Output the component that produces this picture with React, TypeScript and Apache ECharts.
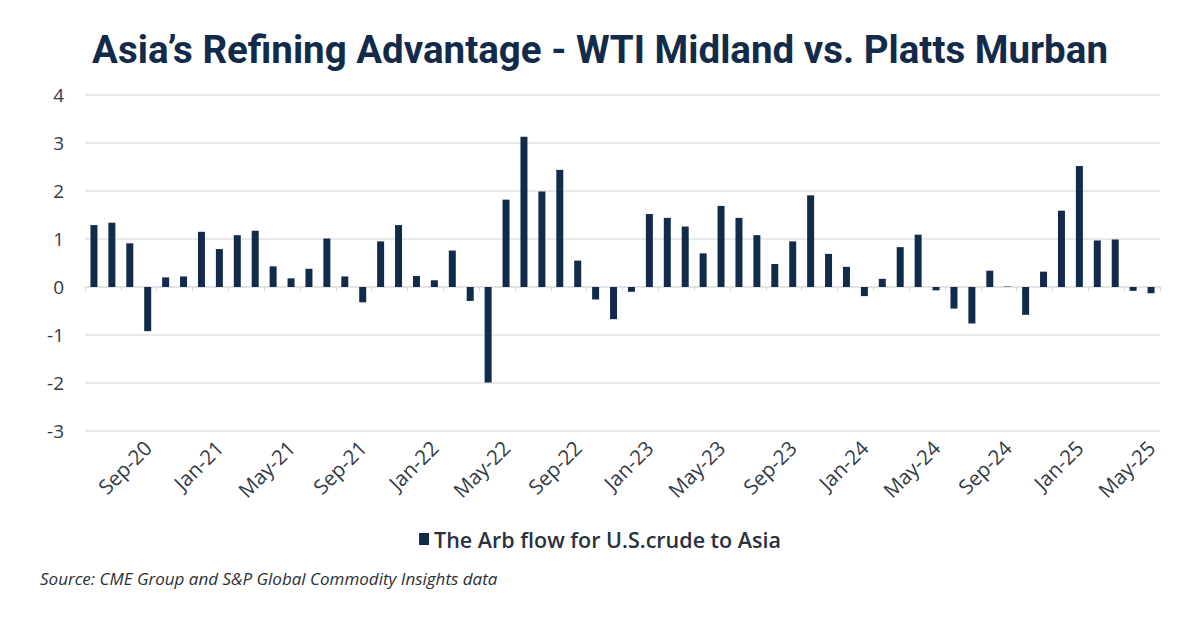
import React, { useEffect, useRef } from "react";
import * as echarts from "echarts";

const TITLE = "Asia\u2019s Refining Advantage - WTI Midland vs. Platts Murban";
const SERIES_NAME = "The Arb flow for U.S.crude to Asia";
const SOURCE = "Source: CME Group and S&P Global Commodity Insights data";

const months = [
  "Jun-20", "Jul-20", "Aug-20", "Sep-20", "Oct-20", "Nov-20", "Dec-20",
  "Jan-21", "Feb-21", "Mar-21", "Apr-21", "May-21", "Jun-21", "Jul-21", "Aug-21", "Sep-21", "Oct-21", "Nov-21", "Dec-21",
  "Jan-22", "Feb-22", "Mar-22", "Apr-22", "May-22", "Jun-22", "Jul-22", "Aug-22", "Sep-22", "Oct-22", "Nov-22", "Dec-22",
  "Jan-23", "Feb-23", "Mar-23", "Apr-23", "May-23", "Jun-23", "Jul-23", "Aug-23", "Sep-23", "Oct-23", "Nov-23", "Dec-23",
  "Jan-24", "Feb-24", "Mar-24", "Apr-24", "May-24", "Jun-24", "Jul-24", "Aug-24", "Sep-24", "Oct-24", "Nov-24", "Dec-24",
  "Jan-25", "Feb-25", "Mar-25", "Apr-25", "May-25",
];

const arbValues = [
  1.29, 1.34, 0.91, -0.92, 0.2, 0.22, 1.15, 0.79, 1.08, 1.17,
  0.43, 0.18, 0.38, 1.01, 0.22, -0.32, 0.95, 1.29, 0.23, 0.14,
  0.76, -0.29, -1.99, 1.82, 3.13, 1.99, 2.44, 0.55, -0.26, -0.67,
  -0.1, 1.52, 1.44, 1.26, 0.7, 1.69, 1.44, 1.08, 0.48, 0.95,
  1.91, 0.69, 0.42, -0.19, 0.17, 0.83, 1.09, -0.07, -0.45, -0.76,
  0.34, 0.01, -0.58, 0.32, 1.59, 2.52, 0.97, 0.99, -0.08, -0.13,
];

const Y_MIN = -3;
const Y_MAX = 4;
const Y_STEP = 1;

const NAVY = "#132b4b";
const TEXT = "#333a44";
const GRID = "#e2e2e2";

export default function App() {
  const ref = useRef<HTMLDivElement>(null);

  useEffect(() => {
    if (!ref.current) return;
    const chart = echarts.init(ref.current, null, { renderer: "svg" });
    chart.setOption({
      animation: false,
      backgroundColor: "#ffffff",
      title: {
        text: TITLE,
        left: "center",
        top: 25,
        textStyle: {
          fontFamily: "Roboto",
          fontWeight: "bold",
          fontSize: 38.5,
          color: NAVY,
        },
      },
      legend: {
        data: [SERIES_NAME],
        left: "center",
        top: 523,
        icon: "rect",
        itemWidth: 10,
        itemHeight: 12,
        itemGap: 6,
        textStyle: {
          fontFamily: "Open Sans",
          fontWeight: 600,
          fontSize: 21.5,
          color: "#2b323d",
        },
      },
      grid: { left: 85, right: 40, top: 95, bottom: 196, containLabel: false },
      xAxis: [
        {
          type: "category",
          data: months,
          boundaryGap: true,
          axisLine: { show: false, onZero: false },
          axisTick: { show: false },
          axisLabel: {
            interval: (index: number) => index % 4 === 3,
            rotate: 45,
            margin: 13,
            fontFamily: "Open Sans",
            fontSize: 20.5,
            color: TEXT,
          },
        },
        {
          type: "category",
          data: months,
          boundaryGap: true,
          position: "bottom",
          axisLine: { show: true, onZero: true, lineStyle: { color: GRID, width: 1.5 } },
          axisTick: { show: true, interval: 1, length: 4, lineStyle: { color: "#d8d8d8" } },
          axisLabel: { show: false },
          splitLine: { show: false },
        },
      ],
      yAxis: {
        type: "value",
        min: Y_MIN,
        max: Y_MAX,
        interval: Y_STEP,
        axisLine: { show: false },
        axisTick: { show: false },
        axisLabel: {
          margin: 21,
          fontFamily: "Open Sans",
          fontSize: 19,
          color: TEXT,
        },
        splitLine: { lineStyle: { color: GRID, width: 1.5 } },
      },
      series: [
        {
          name: SERIES_NAME,
          type: "bar",
          xAxisIndex: 0,
          data: arbValues,
          barWidth: 7,
          itemStyle: { color: NAVY },
        },
      ],
      graphic: [
        {
          type: "text",
          left: 40,
          top: 570,
          style: {
            text: SOURCE,
            fontFamily: "Open Sans",
            fontStyle: "italic",
            fontSize: 17,
            fill: "#2a2f36",
          },
        },
      ],
    });
    return () => chart.dispose();
  }, []);

  return (
    <div
      ref={ref}
      style={{ position: "fixed", left: 0, top: 0, width: 1200, height: 627 }}
    />
  );
}
